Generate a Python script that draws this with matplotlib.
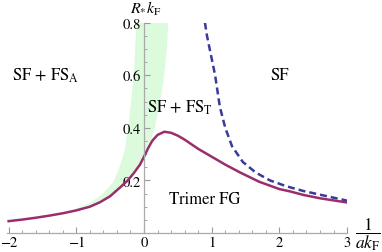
import numpy as np
import matplotlib
matplotlib.use('Agg')
import matplotlib.pyplot as plt
from matplotlib.ticker import MultipleLocator

plt.rcParams['font.family'] = ['STIXGeneral', 'Liberation Serif', 'DejaVu Serif']
plt.rcParams['mathtext.fontset'] = 'stix'

# trimer boundary (solid purple)
trimer_x = [-2, -1.8, -1.6, -1.4, -1.2, -1.0, -0.8, -0.65, -0.5, -0.35, -0.24, -0.15,
            -0.06, 0.0, 0.06, 0.12, 0.2, 0.3, 0.4, 0.5, 0.6, 0.8, 1.0, 1.2, 1.42,
            1.7, 2.0, 2.16, 2.35, 2.6, 2.8, 3.0]
trimer_y = [0.045, 0.051, 0.058, 0.066, 0.075, 0.086, 0.1, 0.117, 0.14, 0.174, 0.2, 0.228,
            0.26, 0.29, 0.322, 0.35, 0.373, 0.385, 0.381, 0.37, 0.355, 0.32, 0.29, 0.26, 0.23,
            0.195, 0.167, 0.158, 0.145, 0.132, 0.124, 0.116]

# SF boundary (dashed blue)
sf_x = [0.9, 0.93, 0.97, 1.01, 1.05, 1.12, 1.2, 1.3, 1.46, 1.65, 1.86, 2.1, 2.35, 2.7, 3.0]
sf_y = [0.8, 0.75, 0.7, 0.65, 0.6, 0.48, 0.4, 0.33, 0.27, 0.23, 0.2, 0.178, 0.16, 0.14, 0.123]

# green band between two boundaries
band_y = [0.07, 0.09, 0.117, 0.15, 0.2, 0.26, 0.3, 0.33, 0.36, 0.4, 0.5, 0.6, 0.7, 0.8]
band_left = [-1.3, -1.05, -0.8, -0.62, -0.45, -0.36, -0.31, -0.28, -0.27, -0.24, -0.2, -0.16, -0.14, -0.12]
band_right = [-1.3, -0.95, -0.65, -0.45, -0.24, -0.06, 0.0, 0.04, 0.1, 0.15, 0.23, 0.29, 0.33, 0.35]

fig = plt.figure(figsize=(3.82, 2.53), dpi=100)
ax = fig.add_axes([6.6 / 382, 19 / 253, 340.5 / 382, 210.4 / 253])

ax.fill_betweenx(band_y, band_left, band_right, color='#dcfadc', lw=0)
ax.plot(sf_x, sf_y, color='#3a3a9c', lw=1.8, dashes=(2.8, 1.6))
ax.plot(trimer_x, trimer_y, color='#9a2e6c', lw=1.8)

ax.set_xlim(-2.03, 3.0)
ax.set_ylim(0, 0.8)

ax.spines['left'].set_position(('data', 0))
ax.spines['bottom'].set_position(('data', 0))
ax.spines['right'].set_visible(False)
ax.spines['top'].set_visible(False)
for s in ['left', 'bottom']:
    ax.spines[s].set_color('#aaaaaa')
    ax.spines[s].set_linewidth(0.9)

ax.set_xticks([-2, -1, 0, 1, 2, 3])
ax.set_xticklabels(['\u22122', '\u22121', '0', '1', '2', '3'])
ax.set_yticks([0.2, 0.4, 0.6, 0.8])
ax.set_yticklabels(['0.2', '0.4', '0.6', '0.8'])
ax.xaxis.set_minor_locator(MultipleLocator(0.2))
ax.yaxis.set_minor_locator(MultipleLocator(0.05))
ax.tick_params(which='both', direction='in', color='#999999', labelsize=10.5, pad=2)
ax.tick_params(which='major', length=4, width=0.8)
ax.tick_params(which='minor', length=2.5, width=0.6)

ax.text(0.03, 0.855, r'$R_{*}k_{\mathrm{F}}$', fontsize=11.5, ha='center', va='center', clip_on=False)
ax.text(3.31, -0.002, r'$\dfrac{1}{a k_{\mathrm{F}}}$', fontsize=12.5, ha='center', va='center', clip_on=False)

ax.text(-1.46, 0.6, r'SF + FS$_{\mathrm{A}}$', fontsize=12, ha='center', va='center')
ax.text(0.53, 0.48, r'SF + FS$_{\mathrm{T}}$', fontsize=12, ha='center', va='center')
ax.text(2.0, 0.6, 'SF', fontsize=12, ha='center', va='center')
ax.text(0.9, 0.13, 'Trimer FG', fontsize=12, ha='center', va='center')

fig.savefig('out.png', dpi=100)
